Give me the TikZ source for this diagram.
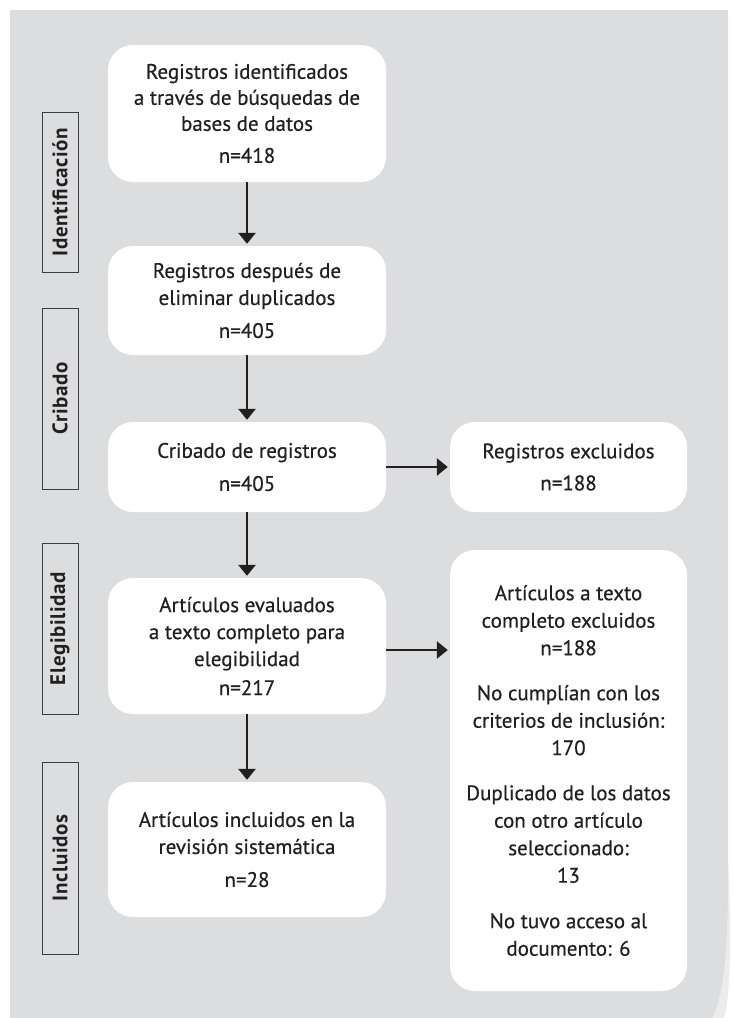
\documentclass[tikz,border=0pt]{standalone}
\usepackage{fontspec}
\setmainfont{PT Sans}[FakeBold=0.5]
\newfontfamily\lblfont{PT Sans}[LetterSpace=3]
\usetikzlibrary{arrows.meta}
\definecolor{bggray}{RGB}{220,221,223}
\definecolor{curlgray}{RGB}{236,236,237}
\definecolor{ink}{RGB}{35,31,32}
\definecolor{lblline}{RGB}{60,60,60}
\begin{document}
\begin{tikzpicture}[x=1pt,y=-1pt,
  box/.style={fill=white, rounded corners=25pt, align=center, text=ink, inner sep=0pt,
    font=\fontsize{21pt}{27pt}\selectfont},
  lbl/.style={draw=lblline, line width=0.9pt, rotate=90, minimum height=36pt, inner sep=0pt,
    text=ink, font=\lblfont\bfseries\fontsize{21pt}{24pt}\selectfont},
  arr/.style={draw=ink, line width=2.8pt, -{Triangle[width=17pt,length=11pt]}, shorten >=2pt}]
\useasboundingbox (0,0) rectangle (732,1018);
% background sheet
\fill[curlgray] (728,860) .. controls (732,940) and (730,1000) .. (724,1018) -- (700,1018) -- cycle;
\fill[bggray] (10,10) -- (728,10) -- (728,880) .. controls (728,960) and (722,1000) .. (712,1018) -- (10,1018) -- cycle;
% stage labels
\node[lbl, minimum width=160pt] (lid) at (60,192) {Identificación};
\node[lbl, minimum width=181pt] (lcr) at (60,398.5) {Cribado};
\node[lbl, minimum width=171pt] (lel) at (60,628.5) {Elegibilidad};
\node[lbl, minimum width=192pt] (lin) at (60,858) {Incluidos};
% main column
\node[box, minimum width=278pt, minimum height=137pt, font=\fontsize{21pt}{26pt}\selectfont] (b1) at (247,113.5)
  {Registros identificados\\a través de búsquedas de\\bases de datos\\[6pt]n=418};
\node[box, minimum width=278pt, minimum height=109pt] (b2) at (247,300.5)
  {Registros después de\\eliminar duplicados\\[6pt]n=405};
\node[box, minimum width=278pt, minimum height=90pt] (b3) at (247,467)
  {Cribado de registros\\[6pt]n=405};
\node[box, minimum width=278pt, minimum height=136pt] (b4) at (247,646)
  {Artículos evaluados\\a texto completo para\\elegibilidad\\[2pt]n=217};
\node[box, minimum width=278pt, minimum height=135pt] (b5) at (247,849.5)
  {Artículos incluidos en la\\revisión sistemática\\[6pt]n=28};
% right column
\node[box, minimum width=237pt, minimum height=90pt] (r1) at (568.5,467)
  {Registros excluidos\\[5pt]n=188};
\node[box, minimum width=237pt, minimum height=441pt, font=\fontsize{21pt}{27.5pt}\selectfont] (r2) at (568.5,770.5)
  {Artículos a texto\\completo excluidos\\n=188\\[17.5pt]No cumplían con los\\criterios de inclusión:\\170\\[17.5pt]Duplicado de los datos\\con otro artículo\\seleccionado:\\13\\[18pt]No tuvo acceso al\\documento: 6};
% connectors
\draw[arr] (b1) -- (b2);
\draw[arr] (b2) -- (b3);
\draw[arr] (b3) -- (b4);
\draw[arr] (b4) -- (b5);
\draw[arr] (b3) -- (r1);
\coordinate (a4) at ([yshift=-4pt]b4.east);
\draw[arr] (a4) -- (a4 -| r2.west);
\end{tikzpicture}
\end{document}
